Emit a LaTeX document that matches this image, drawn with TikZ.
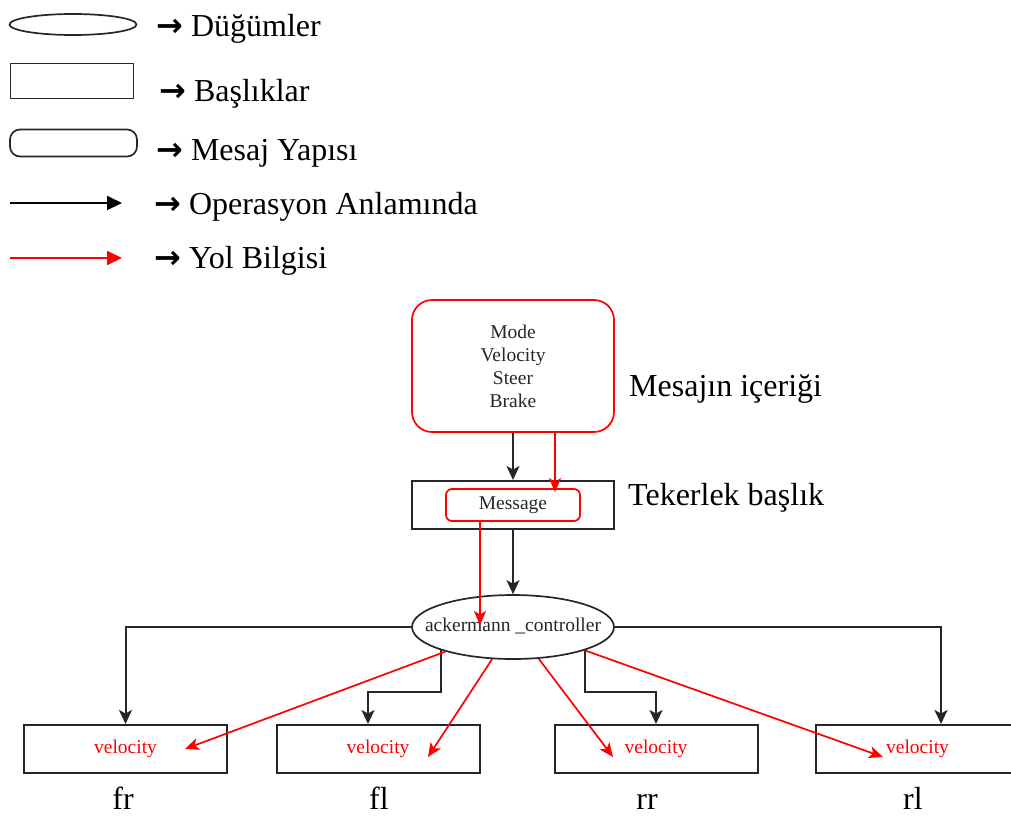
\documentclass[tikz,border=0pt]{standalone}
\usepackage{fontspec}
\setmainfont{Liberation Serif}
\newfontfamily\arrfont{DejaVu Sans}
\usetikzlibrary{arrows.meta,shapes.geometric,calc}
\definecolor{lnk}{HTML}{262626}
\definecolor{rd}{HTML}{FF0000}
\begin{document}
\begin{tikzpicture}[x=1pt,y=-1pt,
  blk/.style={draw=lnk,line width=2pt},
  redl/.style={draw=rd,line width=1.7pt},
  barrow/.style={blk,-{Stealth[length=14pt,width=13pt,inset=3.5pt]}},
  rarrow/.style={redl,-{Stealth[length=14pt,width=12pt,inset=3.5pt]}},
  legarrow/.style={line width=2pt,-{Triangle[length=15pt,width=14pt]}},
  big/.style={font=\fontsize{32}{37}\selectfont,inner sep=0pt},
  small/.style={font=\fontsize{19.5}{23}\selectfont,inner sep=0pt},
  wheel/.style={blk,rectangle,minimum width=203pt,minimum height=48pt,inner sep=0pt,text=rd,font=\fontsize{19.5}{23}\selectfont},
  legtxt/.style={big,anchor=base west}
]
\useasboundingbox (0,0) rectangle (1011,817);

% ---------- legend ----------
\node[draw=lnk,line width=1.7pt,ellipse,minimum width=127pt,minimum height=21pt,inner sep=0pt] (lell) at (73,24.5) {};
\node[draw=lnk,line width=1.7pt,rectangle,minimum width=123pt,minimum height=35pt,inner sep=0pt] (lrect) at (72,81) {};
\node[draw=lnk,line width=1.7pt,rectangle,rounded corners=10pt,minimum width=127pt,minimum height=27pt,inner sep=0pt] (lround) at (73.5,143) {};
\coordinate (lb1) at (10,203);
\coordinate (lb2) at (122,203);
\coordinate (lr1) at (10,258);
\coordinate (lr2) at (122,258);
\draw[legarrow,draw=black,fill=black] (lb1) -- (lb2);
\draw[legarrow,draw=rd,fill=rd] (lr1) -- (lr2);

\node[legtxt] (t1) at (156,36) {{\arrfont\bfseries →} Düğümler};
\node[legtxt] (t2) at (159,101) {{\arrfont\bfseries →} Başlıklar};
\node[legtxt] (t3) at (156,160) {{\arrfont\bfseries →} Mesaj Yapısı};
\node[legtxt] (t4) at (154,214) {{\arrfont\bfseries →} Operasyon Anlamında};
\node[legtxt] (t5) at (154,268) {{\arrfont\bfseries →} Yol Bilgisi};

% ---------- main ----------
\node[redl,rectangle,rounded corners=20pt,minimum width=202pt,minimum height=132pt,inner sep=0pt,
      small,align=center,text=lnk] (cont) at (513,366) {Mode\\Velocity\\Steer\\Brake};
\node[big,anchor=base west] (contl) at (629,396) {Mesajın içeriği};

\node[blk,rectangle,minimum width=202pt,minimum height=48pt,inner sep=0pt] (hdr) at (513,505) {};
\node[redl,rectangle,rounded corners=6pt,minimum width=134pt,minimum height=32pt,inner sep=0pt,
      small,text=lnk] (mess) at (513,505) {Message};
\node[big,anchor=base west] (hdrl) at (628,505) {Tekerlek başlık};

\node[draw=lnk,line width=1.7pt,ellipse,minimum width=202pt,minimum height=64pt,inner sep=0pt] (ack) at (513,627) {};
\node[small,text=lnk] (acktxt) at (513,626) {ackermann \_controller};

\node[wheel] (fr) at (125.5,749) {velocity};
\node[wheel] (fl) at (378,749) {velocity};
\node[wheel] (rr) at (656,749) {velocity};
\node[wheel] (rl) at (917.5,749) {velocity};

\node[big,anchor=base] (frl) at (123,809) {fr};
\node[big,anchor=base] (fll) at (379,809) {fl};
\node[big,anchor=base] (rrl) at (647,809) {rr};
\node[big,anchor=base] (rll) at (913,809) {rl};

% black connectors
\draw[barrow] (cont.south) -- (hdr.north);
\draw[barrow] (hdr.south) -- (ack.north);
\draw[barrow] (ack.west) -| (fr.north);
\draw[barrow] (ack.198) -- ++(0,42) -| ([xshift=-10pt]fl.north);
\draw[barrow] (ack.342) -- ++(0,42) -| (rr.north);
\draw[barrow] (ack.east) -| ([xshift=23.5pt]rl.north);

% red connectors
\draw[rarrow] ($(cont.south)+(42,0)$) -- ($(mess.north)+(42,4)$);
\draw[rarrow] ($(mess.south)+(-33,0)$) -- ($(ack.center)+(-33,-2)$);
\draw[rarrow] (ack.200) -- ($(fr.center)+(59.5,0)$);
\draw[rarrow] (ack.237) -- ($(fl.center)+(50,8)$);
\draw[rarrow] (ack.309) -- ($(rr.center)+(-43,8)$);
\draw[rarrow] (ack.342) -- ($(rl.center)+(-34.5,8)$);
\end{tikzpicture}
\end{document}
